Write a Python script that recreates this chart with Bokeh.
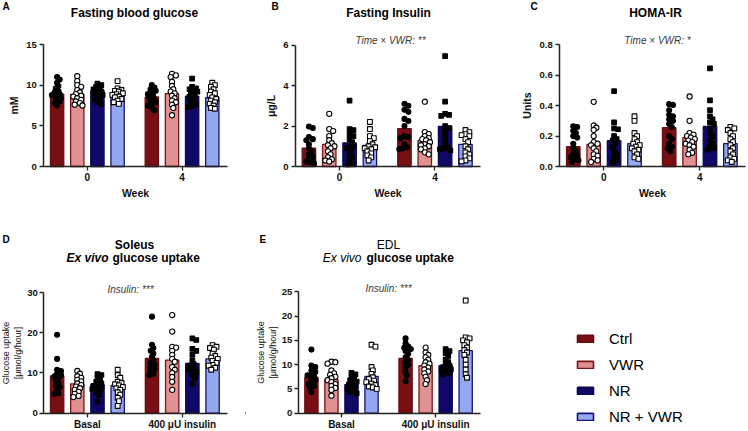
import numpy as np
from bokeh.plotting import figure
from bokeh.layouts import row, column
from bokeh.models import (Label, Legend, LegendItem, FixedTicker, Range1d,
                          NumeralTickFormatter)
from bokeh.embed import file_html
from bokeh.resources import INLINE

FONT = "Liberation Sans"

# ---------------- data ----------------
groups = ["Ctrl", "VWR", "NR", "NR + VWR"]
weeks = ["0", "4"]
uptake_conditions = ["Basal", "400 \u03bcU insulin"]

# A: fasting blood glucose (mM)
fbg_bars = [[8.9, 8.85, 9.3, 8.85], [8.55, 8.95, 8.65, 8.45]]
fbg_w0 = [
    [11.0, 10.7, 10.3, 9.9, 9.6, 9.3, 9.1, 8.9, 8.8, 8.6, 8.4, 8.2, 8.0, 7.8, 7.5],
    [11.1, 10.5, 10.0, 9.8, 9.4, 9.1, 8.9, 8.7, 8.6, 8.4, 8.2, 8.0, 7.8, 7.6, 7.5],
    [10.2, 10.0, 9.8, 9.6, 9.5, 9.3, 9.2, 9.0, 8.9, 8.8, 8.6, 8.4, 8.2, 7.9, 7.7],
    [10.5, 9.6, 9.4, 9.3, 9.2, 9.0, 8.9, 8.8, 8.6, 8.5, 8.3, 8.1, 7.9, 7.7],
]
fbg_w4 = [
    [10.0, 9.7, 9.5, 9.3, 9.1, 8.9, 8.7, 8.5, 8.3, 8.1, 7.9, 7.7, 7.5, 7.2, 6.9],
    [11.4, 11.2, 11.0, 10.4, 9.9, 9.5, 9.2, 9.0, 8.7, 8.4, 8.1, 7.9, 7.6, 7.2, 6.3],
    [10.8, 9.8, 9.6, 9.5, 9.3, 9.2, 9.0, 8.8, 8.6, 8.3, 8.0, 7.8, 7.6, 7.4, 7.3],
    [10.3, 10.0, 9.8, 9.5, 9.2, 9.0, 8.8, 8.5, 8.3, 8.1, 7.9, 7.7, 7.5, 7.2, 7.1],
]

# B: fasting insulin (ug/L)
ins_bars = [[0.91, 1.09, 1.17, 1.04], [1.87, 1.29, 1.98, 1.09]]
ins_w0 = [
    [1.97, 1.9, 1.45, 1.35, 1.3, 1.1, 0.9, 0.75, 0.6, 0.5, 0.4, 0.3, 0.25, 0.2, 0.15],
    [2.6, 1.85, 1.75, 1.5, 1.3, 1.15, 1.05, 1.0, 0.9, 0.75, 0.6, 0.45, 0.35, 0.3, 0.25],
    [3.25, 1.85, 1.8, 1.6, 1.5, 1.35, 1.2, 1.05, 1.0, 0.9, 0.8, 0.6, 0.45, 0.3, 0.15, 0.1],
    [2.2, 1.85, 1.5, 1.4, 1.25, 1.1, 1.0, 0.95, 0.9, 0.85, 0.75, 0.65, 0.55, 0.45, 0.3],
]
ins_w4 = [
    [3.1, 3.0, 2.8, 2.7, 2.35, 2.25, 2.0, 1.5, 1.45, 1.4, 1.1, 0.95, 0.9, 0.85],
    [3.2, 1.7, 1.6, 1.5, 1.4, 1.35, 1.3, 1.2, 1.1, 1.05, 1.0, 0.9, 0.85, 0.7, 0.6],
    [5.45, 3.2, 2.6, 2.55, 2.5, 2.0, 1.9, 1.8, 1.6, 1.4, 1.1, 0.95, 0.9, 0.85, 0.8],
    [1.8, 1.7, 1.6, 1.55, 1.5, 1.35, 1.2, 1.0, 0.85, 0.7, 0.6, 0.5, 0.4, 0.3, 0.25],
]

# C: HOMA-IR (units)
homa_bars = [[0.13, 0.145, 0.17, 0.15], [0.255, 0.19, 0.263, 0.151]]
homa_w0 = [
    [0.265, 0.26, 0.235, 0.22, 0.2, 0.19, 0.15, 0.12, 0.1, 0.08, 0.07, 0.06, 0.05, 0.04, 0.03],
    [0.425, 0.27, 0.255, 0.24, 0.2, 0.16, 0.15, 0.14, 0.12, 0.1, 0.08, 0.07, 0.05, 0.04, 0.03],
    [0.495, 0.29, 0.25, 0.245, 0.2, 0.18, 0.17, 0.15, 0.13, 0.1, 0.08, 0.06, 0.04, 0.03],
    [0.33, 0.3, 0.22, 0.2, 0.18, 0.16, 0.15, 0.14, 0.13, 0.12, 0.11, 0.1, 0.08, 0.06, 0.05],
]
homa_w4 = [
    [0.41, 0.405, 0.37, 0.34, 0.33, 0.31, 0.3, 0.28, 0.26, 0.2, 0.18, 0.15, 0.13, 0.12, 0.1],
    [0.46, 0.3, 0.22, 0.21, 0.2, 0.19, 0.18, 0.17, 0.16, 0.15, 0.14, 0.13, 0.11, 0.09, 0.08],
    [0.645, 0.435, 0.37, 0.33, 0.31, 0.29, 0.28, 0.25, 0.22, 0.2, 0.17, 0.15, 0.13, 0.12, 0.11],
    [0.26, 0.25, 0.24, 0.22, 0.2, 0.18, 0.16, 0.14, 0.12, 0.1, 0.08, 0.06, 0.05, 0.04, 0.03],
]

# D: soleus ex vivo glucose uptake (umol/g/hour)
sol_bars = [[9.3, 7.3, 7.1, 6.9], [13.6, 13.2, 12.4, 13.5]]
sol_basal = [
    [19.5, 13.5, 10.8, 10.5, 9.8, 9.5, 9.2, 8.8, 8.2, 7.5, 6.9, 6.5, 5.8, 5.0, 4.8],
    [10.5, 9.8, 9.2, 8.8, 8.3, 7.9, 7.4, 7.0, 6.6, 6.2, 5.8, 5.3, 4.8, 4.3, 4.0],
    [9.7, 9.5, 8.8, 8.2, 7.8, 7.4, 7.0, 6.8, 6.5, 6.2, 6.0, 5.7, 5.2, 4.5, 2.9],
    [10.8, 9.5, 8.8, 7.8, 7.5, 7.2, 6.9, 6.5, 6.2, 5.8, 5.2, 4.6, 3.8, 3.0, 1.8],
]
sol_insulin = [
    [24.0, 17.0, 16.2, 15.5, 14.8, 14.0, 13.2, 12.5, 12.0, 11.5, 11.0, 10.5, 9.8, 9.5],
    [24.4, 20.3, 16.5, 16.3, 15.5, 14.5, 13.5, 12.8, 11.5, 10.8, 10.0, 9.0, 7.8, 5.8],
    [18.6, 18.2, 16.0, 15.5, 14.5, 13.0, 12.2, 11.8, 11.3, 11.0, 10.5, 10.2, 9.5, 8.8, 7.4],
    [16.9, 16.5, 16.2, 15.8, 14.8, 14.2, 13.8, 13.5, 13.0, 12.5, 12.0, 11.8, 11.3, 10.8],
]

# E: EDL ex vivo glucose uptake (umol/g/hour)
edl_bars = [[7.4, 6.9, 5.9, 7.6], [11.3, 9.8, 9.8, 12.9]]
edl_basal = [
    [13.1, 9.8, 9.5, 8.8, 8.5, 8.0, 7.8, 7.5, 7.0, 6.8, 6.3, 6.0, 5.6, 5.2, 4.3],
    [10.6, 10.5, 10.2, 8.8, 8.2, 7.9, 7.5, 7.2, 6.8, 6.4, 6.0, 5.6, 5.2, 4.8, 3.6],
    [8.3, 8.0, 7.5, 7.0, 6.8, 6.5, 6.2, 5.9, 5.6, 5.3, 5.0, 4.7, 4.4, 4.1],
    [14.1, 13.7, 9.5, 8.8, 8.1, 7.4, 7.0, 6.7, 6.4, 6.1, 5.8, 5.5, 5.3, 5.0],
]
edl_insulin = [
    [15.4, 14.4, 13.8, 13.5, 13.2, 12.8, 12.2, 11.5, 11.0, 10.5, 10.0, 9.5, 8.5, 7.8, 6.6],
    [13.5, 12.5, 12.0, 11.5, 11.0, 10.5, 10.2, 9.8, 9.4, 9.0, 8.6, 8.2, 7.5, 6.8, 6.0],
    [13.2, 12.8, 12.3, 11.8, 11.0, 10.5, 10.0, 9.8, 9.5, 9.2, 9.0, 8.8, 8.6, 8.3, 8.0],
    [23.2, 15.6, 15.4, 15.0, 14.6, 14.0, 13.5, 13.0, 12.5, 12.0, 11.0, 10.0, 9.0, 8.0, 7.3],
]

# ---------------- styles ----------------
bar_fill = ["#770F13", "#E09191", "#100866", "#94A8F0"]
bar_line = ["#680D10", "#7A1519", "#0C0655", "#17127A"]
pt_marker = ["circle", "circle", "square", "square"]
pt_fill = ["black", "white", "black", "white"]
pt_size = [5.0, 5.2, 4.6, 4.8]

GROUP_GAP = 4.7
BAR_W = 0.66
X0, X1 = -0.66, 8.44
AXIS_COLOR = "#222222"
TXT = "#111111"


def swarm(vals, px_x, px_y, diam=3.4, step=1.3, max_off=5.5):
    vals = np.asarray(vals, float)
    order = np.argsort(-vals)
    placed = []
    offs = np.zeros(len(vals))
    cands = [0.0]
    k = 1
    while k * step <= max_off:
        cands += [k * step, -k * step]
        k += 1
    for i in order:
        y = vals[i] * px_y
        best, best_d, best_c = None, -1.0, 0.0
        for c in cands:
            if not placed:
                best = c
                break
            d = min(np.hypot(c - ox, y - oy) for ox, oy in placed)
            if d >= diam:
                best = c
                break
            if d > best_d:
                best_d, best_c = d, c
        if best is None:
            best = best_c
        placed.append((best, y))
        offs[i] = best / px_x
    return offs


class Panel:
    def __init__(self, left, top, width, height, ax_x0, ax_x1, ax_top, ax_bot,
                 ymax):
        self.left, self.top, self.width, self.height = left, top, width, height
        px_x = (ax_x1 - ax_x0) / (X1 - X0)
        px_y = (ax_bot - ax_top) / ymax
        self.px_x, self.px_y = px_x, px_y
        xr = Range1d(X0 - (ax_x0 - left) / px_x, X1 + (left + width - ax_x1) / px_x)
        yr = Range1d(-(top + height - ax_bot) / px_y, ymax + (ax_top - top) / px_y)
        p = figure(width=width, height=height, output_backend="svg",
                   toolbar_location=None, x_range=xr, y_range=yr,
                   min_border=0)
        p.min_border_left = 0
        p.min_border_right = 0
        p.min_border_top = 0
        p.min_border_bottom = 0
        p.outline_line_color = None
        p.grid.visible = False
        self.p = p
        self.ymax = ymax

    def text(self, px, py, text, size, style="normal", align="center",
             color="black"):
        self.p.add_layout(Label(x=px - self.left, y=self.top + self.height - py,
                                x_units="screen", y_units="screen", text=text,
                                text_font=FONT, text_font_style=style,
                                text_font_size=size, text_align=align,
                                text_baseline="middle", text_color=color))


def draw_panel(pan, yticks, yfmt, ylabel, ylabel_bold, ylabel_size,
               cond_labels, xlabel, bars, pts, ylab_standoff=3,
               ytick_standoff=3):
    p = pan.p
    centers = []
    for ci in range(len(cond_labels)):
        xs = [ci * GROUP_GAP + g for g in range(4)]
        centers.append(float(np.mean(xs)))
        for g in range(4):
            p.vbar(x=[xs[g]], top=[bars[ci][g]], width=BAR_W,
                   fill_color=bar_fill[g], line_color=bar_line[g],
                   line_width=1.3)
    for ci in range(len(cond_labels)):
        for g in range(4):
            v = pts[ci][g]
            offs = swarm(v, pan.px_x, pan.px_y)
            xs = ci * GROUP_GAP + g + offs
            p.scatter(x=list(xs), y=list(v), marker=pt_marker[g],
                      size=pt_size[g], fill_color=pt_fill[g],
                      line_color="black", line_width=1.1)

    xa = p.xaxis[0]
    xa.fixed_location = 0
    xa.bounds = (X0, X1)
    xa.ticker = FixedTicker(ticks=centers)
    xa.major_label_overrides = {c: lab for c, lab in zip(centers, cond_labels)}
    xa.minor_tick_line_color = None
    xa.major_tick_out = 4
    xa.major_tick_in = 0
    xa.major_label_standoff = 2
    xa.major_label_text_font = FONT
    xa.major_label_text_font_style = "bold"
    xa.major_label_text_font_size = "10px"
    xa.major_label_text_color = TXT
    xa.axis_line_width = 1.5
    xa.axis_line_color = AXIS_COLOR
    xa.major_tick_line_color = AXIS_COLOR
    xa.major_tick_line_width = 1.3
    if xlabel:
        xa.axis_label = xlabel
        xa.axis_label_text_font = FONT
        xa.axis_label_text_font_style = "bold"
        xa.axis_label_text_font_size = "10.5px"
        xa.axis_label_standoff = 3
        xa.axis_label_text_color = TXT

    ya = p.yaxis[0]
    ya.fixed_location = X0
    ya.bounds = (0, pan.ymax)
    ya.ticker = FixedTicker(ticks=yticks)
    ya.formatter = NumeralTickFormatter(format=yfmt)
    ya.minor_tick_line_color = None
    ya.major_tick_out = 4
    ya.major_tick_in = 0
    ya.major_label_standoff = ytick_standoff
    ya.major_label_text_font = FONT
    ya.major_label_text_font_style = "bold"
    ya.major_label_text_font_size = "9.5px"
    ya.major_label_text_color = TXT
    ya.axis_line_width = 1.5
    ya.axis_line_color = AXIS_COLOR
    ya.major_tick_line_color = AXIS_COLOR
    ya.major_tick_line_width = 1.3
    ya.axis_label = ylabel
    ya.axis_label_text_font = FONT
    ya.axis_label_text_font_style = "bold" if ylabel_bold else "normal"
    ya.axis_label_text_font_size = ylabel_size
    ya.axis_label_standoff = ylab_standoff
    ya.axis_label_text_color = TXT


# ---- top row ----
A = Panel(0, 0, 250, 220, 43.3, 226.7, 44, 166, 15)
draw_panel(A, [0, 5, 10, 15], "0", "mM", True, "10.5px", weeks, "Week",
           fbg_bars, [fbg_w0, fbg_w4])
A.text(2, 6, "A", "10px", "bold", "left")
A.text(134, 12, "Fasting blood glucose", "12px", "bold")

B = Panel(250, 0, 250, 220, 295, 480, 44.5, 166, 6)
draw_panel(B, [0, 2, 4, 6], "0", "\u03bcg/L", True, "10.5px", weeks, "Week",
           ins_bars, [ins_w0, ins_w4])
B.text(271, 6, "B", "10px", "bold", "left")
B.text(388, 12, "Fasting Insulin", "12px", "bold")
B.text(390, 40, "Time \u00d7 VWR: **", "10px", "italic", color="#3a3a3a")

C = Panel(500, 0, 248, 220, 559.3, 745, 44.3, 166, 0.8)
draw_panel(C, [0, 0.2, 0.4, 0.6, 0.8], "0.0", "Units", True, "10.5px", weeks,
           "Week", homa_bars, [homa_w0, homa_w4])
C.text(530, 6, "C", "10px", "bold", "left")
C.text(655, 12, "HOMA-IR", "12px", "bold")
C.text(657, 40, "Time \u00d7 VWR: *", "10px", "italic", color="#3a3a3a")

# ---- bottom row ----
D = Panel(0, 220, 245, 211, 43.3, 227, 292, 412.7, 30)
draw_panel(D, [0, 10, 20, 30], "0", "Glucose uptake\n[\u03bcmol/g/hour]", False,
           "9px", uptake_conditions, None, sol_bars, [sol_basal, sol_insulin],
           ylab_standoff=1, ytick_standoff=2)
D.text(2, 239, "D", "10px", "bold", "left")
D.text(134, 244, "Soleus", "12px", "bold")
D.text(108, 257, "Ex vivo", "12px", "bold italic", "right")
D.text(112, 257, "glucose uptake", "12px", "bold", "left")
D.text(130, 289, "Insulin: ***", "10px", "italic", color="#3a3a3a")

E = Panel(245, 220, 503, 211, 297.7, 480, 291.3, 412.7, 25)
draw_panel(E, [0, 5, 10, 15, 20, 25], "0", "Glucose uptake\n[\u03bcmol/g/hour]",
           False, "9px", uptake_conditions, None, edl_bars,
           [edl_basal, edl_insulin], ylab_standoff=1, ytick_standoff=2)
E.text(259, 239, "E", "10px", "bold", "left")
E.text(388, 244, "EDL", "12px", "normal")
E.text(361, 257, "Ex vivo", "12px", "italic", "right")
E.text(366, 257, "glucose uptake", "12px", "bold", "left")
E.text(388, 288, "Insulin: ***", "10px", "italic", color="#3a3a3a")

# legend (inside E's canvas, to the right of its axes)
items = []
for g, name in enumerate(groups):
    r = E.p.vbar(x=[-100.0], top=[0.0], width=0.1, fill_color=bar_fill[g],
                 line_color=bar_line[g], line_width=1.6)
    items.append(LegendItem(label=name, renderers=[r]))
legend = Legend(items=items, location=(575 - 245, 6), glyph_width=20,
                glyph_height=9, label_height=18, spacing=8, padding=0,
                margin=0, label_standoff=14, label_text_font=FONT,
                label_text_font_size="15px", label_text_color="black",
                border_line_color=None, background_fill_alpha=0)
E.p.add_layout(legend)

layout = column(row(A.p, B.p, C.p), row(D.p, E.p))

with open("out.html", "w") as f:
    f.write(file_html(layout, INLINE))
